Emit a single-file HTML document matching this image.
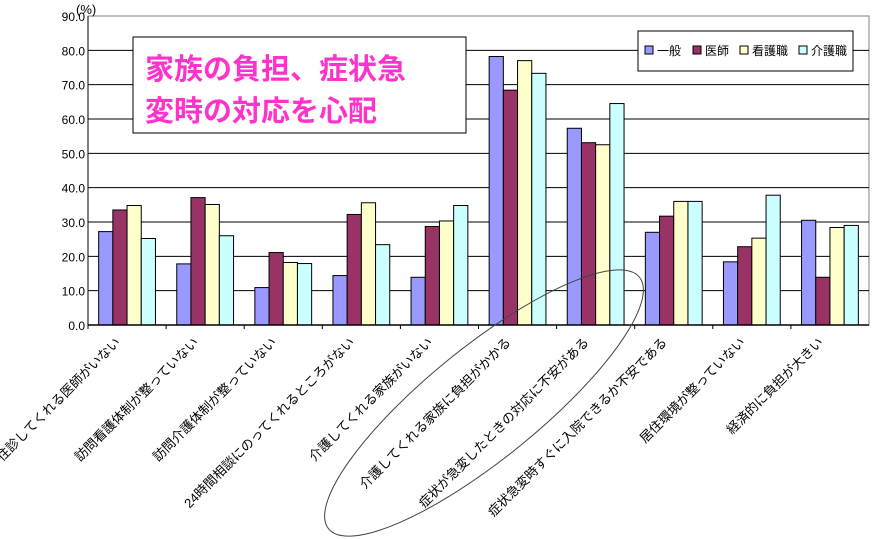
<!DOCTYPE html>
<html><head><meta charset="utf-8">
<style>
html,body{margin:0;background:#fff;overflow:hidden;width:872px;height:539px;}
svg{display:block;font-family:"Liberation Sans","Noto Sans CJK JP",sans-serif;}
</style></head>
<body>
<svg id="chart" width="872" height="539" viewBox="0 0 872 539" xmlns="http://www.w3.org/2000/svg">
<rect x="88" y="16" width="781" height="309" fill="#fff" stroke="#808080" stroke-width="1"/>
<g id="grid"></g>
<g id="bars"></g>
<g id="yticks"></g>
<g id="xlabels"></g>
<text x="76" y="14" font-size="13">(%)</text>
<g>
<rect x="133" y="37" width="333" height="96" fill="#fff" stroke="#000" stroke-width="1"/>
<text x="145" y="79" font-size="29" fill="#ff33cc" font-weight="bold" font-family="'Noto Sans CJK JP',sans-serif">家族の負担、症状急</text>
<text x="145" y="121" font-size="29" fill="#ff33cc" font-weight="bold" font-family="'Noto Sans CJK JP',sans-serif">変時の対応を心配</text>
</g>
<g id="legend">
<rect x="638" y="31" width="215" height="40" fill="#fff" stroke="#000" stroke-width="1"/>
</g>
<ellipse cx="484" cy="403" rx="200" ry="56" transform="rotate(-39 484 403)" fill="none" stroke="#444" stroke-width="1"/>
</svg>
<script>
const categories=["往診してくれる医師がいない","訪問看護体制が整っていない","訪問介護体制が整っていない","24時間相談にのってくれるところがない","介護してくれる家族がいない","介護してくれる家族に負担がかかる","症状が急変したときの対応に不安がある","症状急変時すぐに入院できるか不安である","居住環境が整っていない","経済的に負担が大きい"];
const seriesNames=["一般","医師","看護職","介護職"];
const ippan=[27.2,17.8,10.9,14.4,13.9,78.2,57.3,27.0,18.4,30.5];
const ishi=[33.5,37.1,21.1,32.2,28.7,68.4,53.1,31.7,22.8,13.9];
const kango=[34.8,35.1,18.2,35.6,30.3,77.0,52.5,36.0,25.3,28.4];
const kaigo=[25.2,26.0,17.9,23.4,34.8,73.3,64.5,36.0,37.8,29.0];
const yTicks=[0,10,20,30,40,50,60,70,80,90];
const colors=["#9999ff","#993366","#ffffcc","#ccffff"];
const series=[ippan,ishi,kango,kaigo];
const NS="http://www.w3.org/2000/svg";
const X0=88,X1=869,Y0=325,Y1=16;
const yScale=v=>Y0-(v/90)*(Y0-Y1);
const gw=(X1-X0)/categories.length;
const bw=14.2;
const xScale=(i,s)=>X0+i*gw+(gw-4*bw)/2+s*bw;
function mk(tag,attrs,parent){const e=document.createElementNS(NS,tag);for(const k in attrs)e.setAttribute(k,attrs[k]);parent.appendChild(e);return e;}
const grid=document.getElementById('grid'),yt=document.getElementById('yticks');
yTicks.forEach(t=>{
  const y=yScale(t);
  if(t>0&&t<90){const l=mk('line',{x1:X0,x2:X1,y1:y,y2:y,stroke:'#000','stroke-width':1},grid);
  
  }
  const tx=mk('text',{x:85,y:y+5,'font-size':12,'text-anchor':'end'},yt);
  tx.textContent=t.toFixed(1);
  
  
});
const bars=document.getElementById('bars');
categories.forEach((c,i)=>{
  series.forEach((arr,s)=>{
    const y=yScale(arr[i]);
    const r=mk('rect',{x:xScale(i,s),y:y,width:bw,height:Y0-y,fill:colors[s],stroke:'#000','stroke-width':1},bars);
    
    
  });
  const tk=mk('line',{x1:X0+i*gw,x2:X0+i*gw,y1:Y0,y2:Y0+4,stroke:'#000'},bars);
  
  
});
mk('line',{x1:X0,x2:X1,y1:Y0,y2:Y0,stroke:'#000','stroke-width':1.5},bars);
mk('line',{x1:X0,x2:X0,y1:Y1,y2:Y0,stroke:'#000','stroke-width':1},bars);
const xl=document.getElementById('xlabels');
categories.forEach((c,i)=>{
  const cx=X0+i*gw+gw/2-6, cy=343;
  const t=mk('text',{x:cx,y:cy,'font-size':13,'text-anchor':'end',transform:`rotate(-45 ${cx} ${cy})`},xl);
  t.textContent=c;
  
  
});
const lg=document.getElementById('legend');
const lx=[645,693,740,799];
seriesNames.forEach((n,s)=>{
  const r=mk('rect',{x:lx[s],y:46,width:8,height:8,fill:colors[s],stroke:'#000'},lg);
  
  
  const t=mk('text',{x:lx[s]+12,y:55,'font-size':12},lg);
  t.textContent=n;
  
  
});
</script>
</body></html>
